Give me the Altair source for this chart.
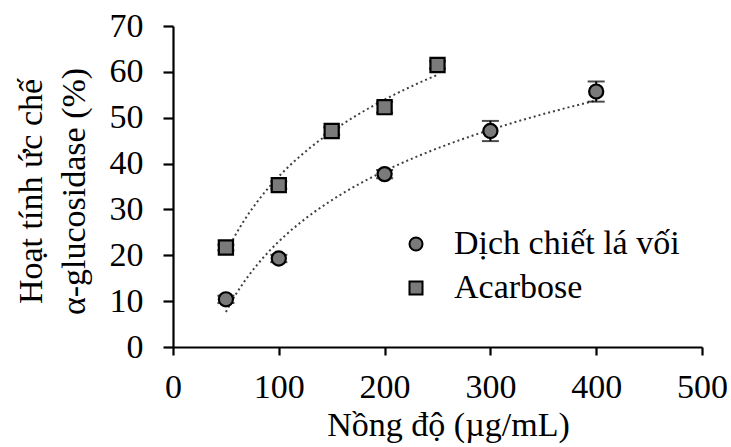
import altair as alt
import pandas as pd

series_names = ["Dịch chiết lá vối", "Acarbose"]

extract_x = [50, 100, 200, 300, 400]
extract_y = [10.4, 19.3, 37.7, 47.1, 55.7]
extract_err = [0.8, 0.8, 0.9, 2.2, 2.2]

acarbose_x = [50, 100, 150, 200, 250]
acarbose_y = [21.7, 35.3, 47.1, 52.3, 61.5]
acarbose_err = [0.6, 0.8, 0.8, 1.2, 0.8]

x_ticks = [0, 100, 200, 300, 400, 500]
y_ticks = [0, 10, 20, 30, 40, 50, 60, 70]

rows = []
for x, y, e in zip(extract_x, extract_y, extract_err):
    rows.append({"series": series_names[0], "x": x, "y": y, "lo": y - e, "hi": y + e})
for x, y, e in zip(acarbose_x, acarbose_y, acarbose_err):
    rows.append({"series": series_names[1], "x": x, "y": y, "lo": y - e, "hi": y + e})
df = pd.DataFrame(rows)

FONT = "Liberation Serif"
FILL = "#7a7a7a"

xenc = alt.X("x:Q", scale=alt.Scale(domain=[0, 500]),
             axis=alt.Axis(values=x_ticks, title="Nồng độ (µg/mL)", labelFlush=False,
                           titleX=275, titleY=88, titleBaseline="alphabetic",
                           titleAlign="center"))
yenc = alt.Y("y:Q", scale=alt.Scale(domain=[0, 70]),
             axis=alt.Axis(values=y_ticks, title=["Hoạt tính ức chế", "α-glucosidase (%)"],
                           labelFlush=False,
                           titleX=-132, titleY=165, titleBaseline="alphabetic",
                           titleAlign="center", titleAngle=270))

base = alt.Chart(df)

trend1 = base.transform_filter(alt.datum.series == series_names[0]).transform_regression(
    "x", "y", method="log", extent=[50, 400]
).mark_line(color="#404040", strokeWidth=2, strokeDash=[2, 3]).encode(x=xenc, y=yenc)

trend2 = base.transform_filter(alt.datum.series == series_names[1]).transform_regression(
    "x", "y", method="log", extent=[50, 250]
).mark_line(color="#404040", strokeWidth=2, strokeDash=[2, 3]).encode(x=xenc, y=yenc)

err_rule = base.mark_rule(color="black", strokeWidth=2).encode(
    x="x:Q", y="lo:Q", y2="hi:Q")
err_top = base.mark_tick(color="black", thickness=2, size=17, orient="horizontal").encode(
    x="x:Q", y="hi:Q")
err_bot = base.mark_tick(color="black", thickness=2, size=17, orient="horizontal").encode(
    x="x:Q", y="lo:Q")

legend = alt.Legend(title=None, orient="none", legendX=226, legendY=201,
                    labelFont=FONT, labelFontSize=34, labelColor="black",
                    symbolStrokeWidth=2, symbolSize=170,
                    rowPadding=10, labelOffset=21, labelLimit=400)

points = base.mark_point(filled=True, strokeWidth=2.2, size=200, opacity=1).encode(
    x=xenc, y=yenc,
    shape=alt.Shape("series:N",
                    scale=alt.Scale(domain=series_names, range=["circle", "square"]),
                    legend=legend),
    fill=alt.Fill("series:N",
                  scale=alt.Scale(domain=series_names, range=[FILL, FILL]),
                  legend=legend),
    stroke=alt.Stroke("series:N",
                      scale=alt.Scale(domain=series_names, range=["black", "black"]),
                      legend=legend),
)

chart = alt.layer(trend1, trend2, err_rule, err_top, err_bot, points).properties(
    width=529, height=321,
    autosize=alt.AutoSizeParams(type="none"),
    padding={"left": 173, "top": 26, "right": 29, "bottom": 100},
).configure_view(stroke=None).configure_axis(
    labelFont=FONT, titleFont=FONT, labelFontSize=34, titleFontSize=34,
    labelColor="black", titleColor="black", titleFontWeight="normal",
    domainColor="black", domainWidth=2.2, tickColor="black", tickWidth=2.2,
    grid=False, titleLineHeight=43,
).configure_axisY(tickSize=10, labelPadding=20).configure_axisX(tickSize=8, labelPadding=15)

chart.save("out.html", embed_options={"renderer": "svg", "actions": False})
